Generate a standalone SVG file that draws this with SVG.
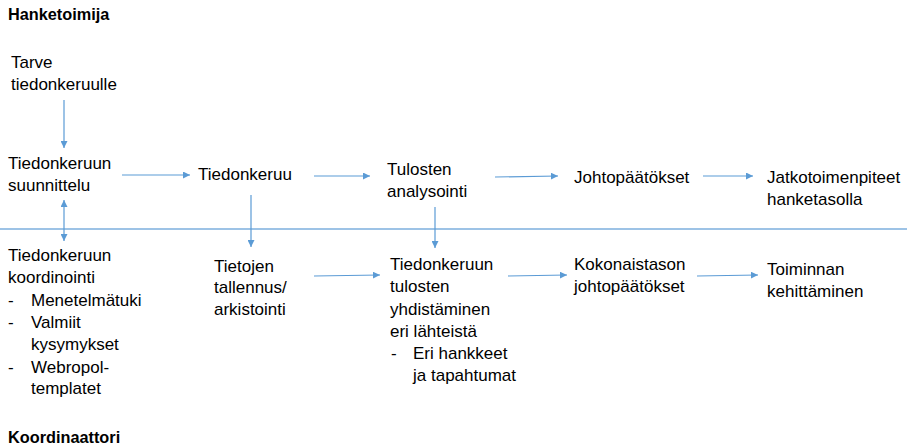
<svg xmlns="http://www.w3.org/2000/svg" width="907" height="448" viewBox="0 0 907 448">
<style>
text{font-family:"Liberation Sans",Arial,sans-serif;font-size:17px;fill:#000}
.b{font-weight:bold;font-size:16.3px}
.c{stroke:#5B9BD5;stroke-width:1.2;fill:none}
.sep{stroke:#9DC3E6;stroke-width:2;fill:none}
</style>
<defs>
<marker id="ah" markerUnits="userSpaceOnUse" markerWidth="8" markerHeight="7" refX="7" refY="3.5" orient="auto-start-reverse">
<path d="M0,0 L7,3.5 L0,7 z" fill="#5B9BD5"/>
</marker>
</defs>
<rect width="907" height="448" fill="#fff"/>
<line class="sep" x1="0" y1="229" x2="907" y2="229"/>
<g id="lane-top"><text class="b" x="8" y="20">Hanketoimija</text></g>
<g id="lane-bottom"><text class="b" x="8" y="443">Koordinaattori</text></g>
<g id="n-tarve"><text x="11" y="68">Tarve</text><text x="11" y="90">tiedonkeruulle</text></g>
<g id="n-suunnittelu"><text x="8" y="169">Tiedonkeruun</text><text x="8" y="191">suunnittelu</text></g>
<g id="n-tiedonkeruu"><text x="198" y="180">Tiedonkeruu</text></g>
<g id="n-analysointi"><text x="387" y="175">Tulosten</text><text x="387" y="197">analysointi</text></g>
<g id="n-johtopaatokset"><text x="574" y="183">Johtopäätökset</text></g>
<g id="n-jatko"><text x="767" y="183">Jatkotoimenpiteet</text><text x="767" y="205">hanketasolla</text></g>
<g id="n-koordinointi"><text x="8" y="261">Tiedonkeruun</text><text x="8" y="283">koordinointi</text><text x="8" y="306">-</text><text x="31" y="306">Menetelmätuki</text><text x="8" y="328">-</text><text x="31" y="328">Valmiit</text><text x="31" y="350">kysymykset</text><text x="8" y="373">-</text><text x="31" y="373">Webropol-</text><text x="31" y="394">templatet</text></g>
<g id="n-tallennus"><text x="214" y="272">Tietojen</text><text x="214" y="293">tallennus/</text><text x="214" y="315">arkistointi</text></g>
<g id="n-yhdistaminen"><text x="390" y="270">Tiedonkeruun</text><text x="390" y="292">tulosten</text><text x="390" y="315">yhdistäminen</text><text x="390" y="337">eri lähteistä</text><text x="391" y="359">-</text><text x="413" y="359">Eri hankkeet</text><text x="413" y="381">ja tapahtumat</text></g>
<g id="n-kokonais"><text x="574" y="270">Kokonaistason</text><text x="574" y="292">johtopäätökset</text></g>
<g id="n-kehittaminen"><text x="767" y="275">Toiminnan</text><text x="767" y="297">kehittäminen</text></g>
<g id="connectors">
<line class="c" x1="64" y1="100" x2="64" y2="148" marker-end="url(#ah)"/>
<line class="c" x1="122" y1="175" x2="190" y2="175" marker-end="url(#ah)"/>
<line class="c" x1="64" y1="200" x2="64" y2="241" marker-start="url(#ah)" marker-end="url(#ah)"/>
<line class="c" x1="251" y1="195" x2="251" y2="247" marker-end="url(#ah)"/>
<line class="c" x1="314" y1="176" x2="370" y2="176" marker-end="url(#ah)"/>
<line class="c" x1="495" y1="177" x2="558" y2="176" marker-end="url(#ah)"/>
<line class="c" x1="703" y1="176" x2="753" y2="176" marker-end="url(#ah)"/>
<line class="c" x1="435" y1="207" x2="435" y2="248" marker-end="url(#ah)"/>
<line class="c" x1="314" y1="276" x2="380" y2="275" marker-end="url(#ah)"/>
<line class="c" x1="508" y1="276" x2="567" y2="275" marker-end="url(#ah)"/>
<line class="c" x1="697" y1="276" x2="758" y2="275" marker-end="url(#ah)"/>
</g>
</svg>
